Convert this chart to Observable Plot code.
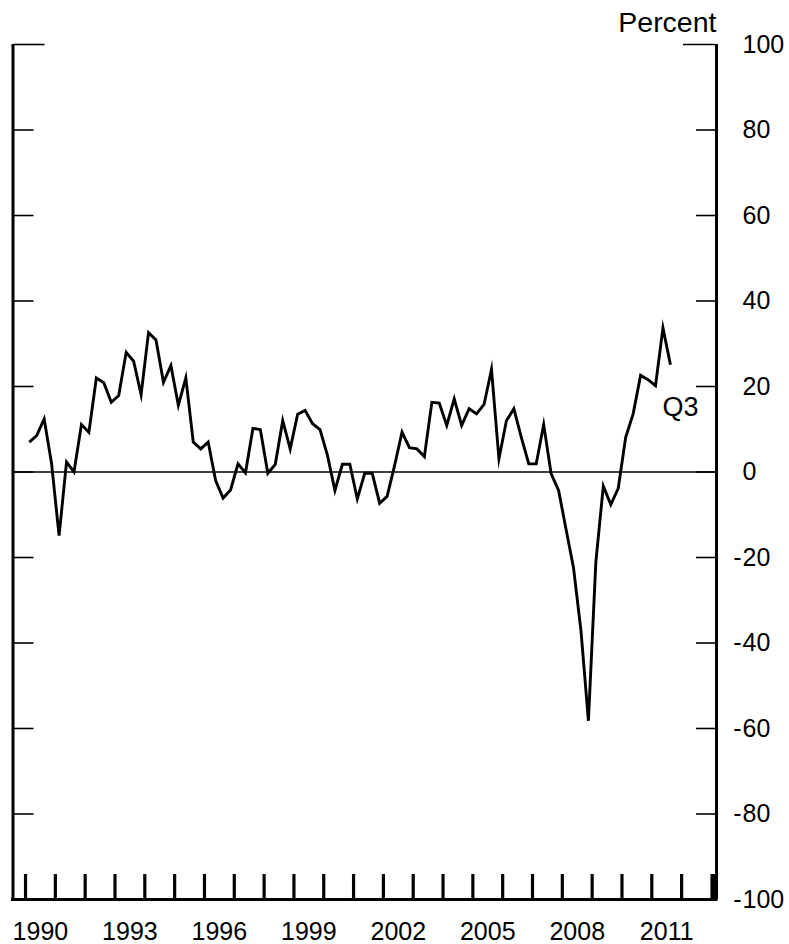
<!DOCTYPE html>
<html><head><meta charset="utf-8">
<script src="https://cdn.jsdelivr.net/npm/d3@7"></script>
<script src="https://cdn.jsdelivr.net/npm/@observablehq/plot@0.6"></script>
<style>
html,body{margin:0;padding:0;background:#fff}
#chart svg{display:block}
</style>
</head><body><div id="chart"></div>
<script>
// Quarterly series, 1990 Q1 – 2011 Q3 (percent)
const startYear = 1990;
const values = [
  7.0, 8.5, 12.4, 1.9,      // 1990
  -14.9, 2.3, 0.0, 11.1,    // 1991
  9.3, 22.0, 20.9, 16.3,    // 1992
  17.9, 28.0, 25.9, 18.1,   // 1993
  32.6, 30.9, 21.0, 24.9,   // 1994
  15.6, 22.0, 7.0, 5.4,     // 1995
  7.0, -2.0, -6.1, -4.2,    // 1996
  1.9, -0.2, 10.2, 9.9,     // 1997
  -0.3, 1.8, 12.0, 5.4,     // 1998
  13.5, 14.4, 11.3, 9.9,    // 1999
  3.9, -4.3, 1.8, 1.8,      // 2000
  -6.3, -0.3, -0.3, -7.3,   // 2001
  -5.7, 1.5, 9.3, 5.7,      // 2002
  5.4, 3.6, 16.3, 16.1,     // 2003
  10.9, 17.1, 10.9, 14.8,   // 2004
  13.6, 15.8, 24.0, 3.1,    // 2005
  12.0, 14.8, 8.1, 1.9,     // 2006
  1.9, 11.1, -0.4, -4.3,    // 2007
  -13.4, -22.4, -37.1, -58.2, // 2008
  -21.0, -3.3, -7.6, -3.8,  // 2009
  8.1, 13.6, 22.6, 21.6,    // 2010
  20.2, 33.7, 25.1          // 2011
];
const yTicks = [-80, -60, -40, -20, 0, 20, 40, 60, 80];
const yTopTick = [100];
const yLabels = [100, 80, 60, 40, 20, 0, -20, -40, -60, -80, -100];
const yearTicks = [1990,1991,1992,1993,1994,1995,1996,1997,1998,1999,2000,2001,2002,2003,2004,2005,2006,2007,2008,2009,2010,2011,2012];
const endTick = [2013];
const yearLabels = [1990, 1993, 1996, 1999, 2002, 2005, 2008, 2011];
const unitLabel = "Percent";
const endLabel = "Q3";
const xDomain = [1989.58, 2013.17];
const yDomain = [-100, 100];

// each quarter plotted at its mid-point
const data = values.map((v, i) => ({t: startYear + (i + 0.5) / 4, v}));
const last = data[data.length - 1];

const font = "'Liberation Sans', Arial, Helvetica, sans-serif";

const chart = Plot.plot({
  width: 789,
  height: 944,
  marginLeft: 12.5,
  marginRight: 73,
  marginTop: 44,
  marginBottom: 45,
  style: {fontFamily: font, fontSize: "25px", color: "#000", background: "#fff"},
  x: {domain: xDomain, axis: null},
  y: {domain: yDomain, axis: null},
  marks: [
    // zero line
    Plot.ruleY([0], {stroke: "#000", strokeWidth: 1.6}),
    // frame: left, right, bottom
    Plot.ruleX(xDomain, {stroke: "#000", strokeWidth: 3}),
    Plot.ruleY([yDomain[0]], {stroke: "#000", strokeWidth: 3, strokeLinecap: "square"}),
    // y ticks, inward on both sides
    Plot.axisY(yTicks, {anchor: "right", frameAnchor: "left", tickSize: 20, strokeWidth: 1.6, fill: "none", label: null}),
    Plot.axisY(yTicks, {anchor: "left", frameAnchor: "right", tickSize: 20, strokeWidth: 1.6, fill: "none", label: null}),
    Plot.axisY(yTopTick, {anchor: "right", frameAnchor: "left", tickSize: 31, strokeWidth: 1.6, fill: "none", label: null}),
    Plot.axisY(yTopTick, {anchor: "left", frameAnchor: "right", tickSize: 33, strokeWidth: 1.6, fill: "none", label: null}),
    // x ticks (year boundaries), inward from bottom
    Plot.axisX(yearTicks, {anchor: "top", frameAnchor: "bottom", tickSize: 26, strokeWidth: 3.2, fill: "none", label: null}),
    Plot.axisX(endTick, {anchor: "top", frameAnchor: "bottom", tickSize: 26, strokeWidth: 6, dx: 2, fill: "none", label: null}),
    // y tick labels on the right (digits aligned, minus hanging)
    Plot.text(yLabels, {y: d => d, text: d => String(Math.abs(d)), frameAnchor: "right", dx: 26, textAnchor: "start", lineAnchor: "middle", fill: "#000"}),
    Plot.text(yLabels.filter(d => d < 0), {y: d => d, text: () => "-", frameAnchor: "right", dx: 25, textAnchor: "end", lineAnchor: "middle", fill: "#000"}),
    // year labels centred in the year
    Plot.text(yearLabels, {x: d => d + 0.5, text: d => String(d), frameAnchor: "bottom", lineAnchor: "middle", dy: 32, fill: "#000"}),
    // unit label
    Plot.text([unitLabel], {text: d => d, frameAnchor: "top-right", lineAnchor: "middle", dy: -22, dx: 0, textAnchor: "end", fill: "#000", fontSize: 28.5}),
    // data line
    Plot.line(data, {x: "t", y: "v", stroke: "#000", strokeWidth: 2.9, strokeLinejoin: "miter", strokeLinecap: "butt", strokeMiterlimit: 8}),
    // end label
    Plot.text([last], {x: "t", y: "v", text: () => endLabel, dx: 10, dy: 43, lineAnchor: "middle", fill: "#000", fontSize: 27})
  ]
});
document.getElementById("chart").appendChild(chart);
</script>
</body></html>
